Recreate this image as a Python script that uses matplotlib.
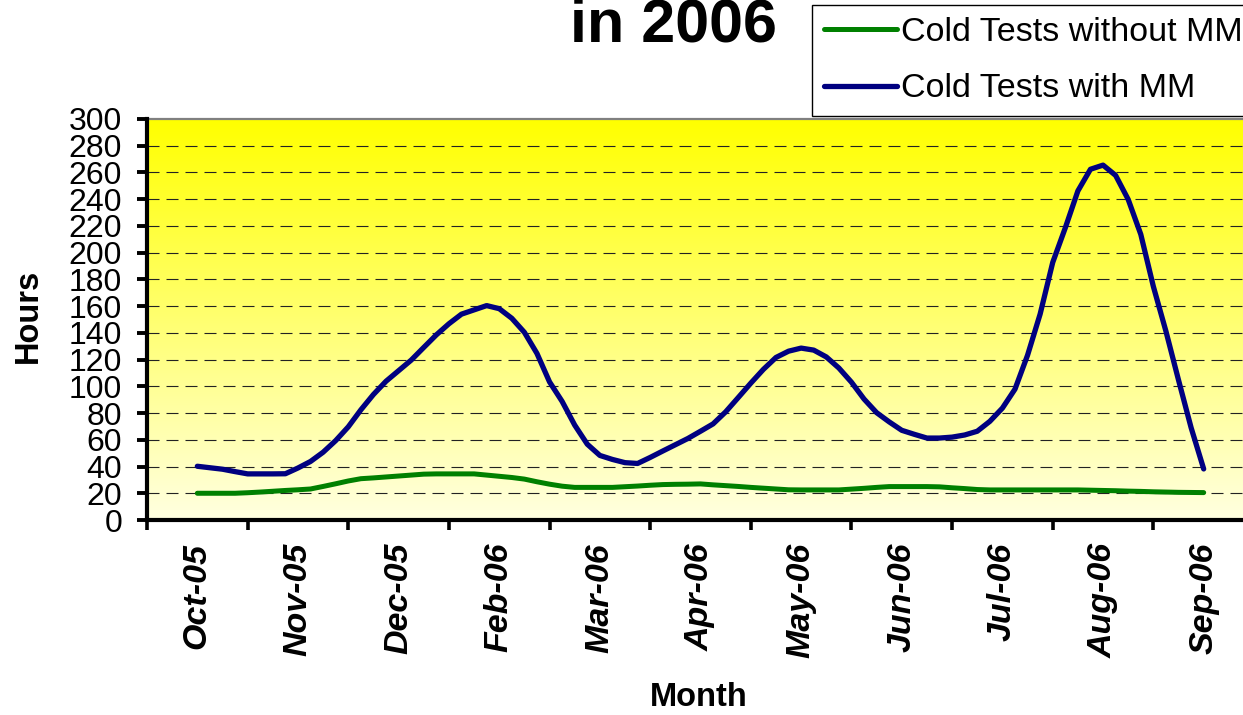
import numpy as np
import matplotlib
matplotlib.use("Agg")
import matplotlib.pyplot as plt

# ---- data -------------------------------------------------------------
months = ['Oct-05', 'Nov-05', 'Dec-05', 'Feb-06', 'Mar-06', 'Apr-06',
          'May-06', 'Jun-06', 'Jul-06', 'Aug-06', 'Sep-06']

# readings of the curves, 8 per category from Oct-05 to Sep-06
with_mm = [40.2, 39.1, 38.0, 36.2, 34.5, 34.5, 34.5, 34.6, 38.9, 43.8,
           50.7, 59.4, 69.7, 82.4, 93.9, 103.8, 111.7, 119.6, 129.1, 138.5,
           146.8, 154.0, 157.2, 160.4, 158.1, 150.9, 140.4, 124.6, 103.3, 88.7,
           71.0, 56.7, 48.3, 45.3, 42.9, 42.3, 46.8, 51.6, 56.3, 61.0,
           66.4, 71.9, 80.9, 91.6, 102.4, 112.7, 121.6, 126.3, 128.6, 127.1,
           122.0, 113.7, 103.1, 90.5, 80.3, 73.4, 67.1, 64.1, 61.3, 61.3,
           62.0, 63.6, 66.4, 73.8, 83.7, 97.9, 123.3, 154.1, 192.7, 218.6,
           246.2, 262.4, 265.5, 257.8, 239.8, 213.7, 174.7, 141.2, 104.7, 69.1,
           38.2]

without_mm = [20.0, 20.0, 20.0, 20.0, 20.4, 20.9, 21.5, 22.1, 22.6, 23.2,
              25.1, 27.1, 29.2, 30.9, 31.5, 32.2, 32.9, 33.6, 34.3, 34.5,
              34.5, 34.5, 34.5, 33.6, 32.7, 31.8, 30.6, 28.6, 26.8, 25.3,
              24.4, 24.4, 24.4, 24.4, 24.9, 25.4, 26.0, 26.5, 26.7, 26.8,
              27.0, 26.3, 25.7, 25.1, 24.4, 23.8, 23.2, 22.6, 22.5, 22.5,
              22.5, 22.5, 23.1, 23.7, 24.4, 25.0, 25.0, 25.0, 25.0, 24.8,
              24.1, 23.5, 22.8, 22.5, 22.5, 22.5, 22.5, 22.5, 22.5, 22.5,
              22.5, 22.3, 22.1, 21.9, 21.6, 21.4, 21.1, 20.9, 20.7, 20.6,
              20.5]

yticks = list(range(0, 301, 20))

title_text = 'in 2006'
xlabel_text = 'Month'
ylabel_text = 'Hours'
label_without = 'Cold Tests without MM'
label_with = 'Cold Tests with MM'

# ---- figure -----------------------------------------------------------
FONT = 'Liberation Sans'
plt.rcParams['font.family'] = [FONT, 'DejaVu Sans']

W, H = 1243, 715
fig = plt.figure(figsize=(W / 100, H / 100), dpi=100)
fig.patch.set_facecolor('white')

ax_l, ax_r, ax_t, ax_b = 147, 1254, 119, 520
ax = fig.add_axes([ax_l / W, 1 - ax_b / H, (ax_r - ax_l) / W, (ax_b - ax_t) / H])

# gradient background (yellow at top to very light yellow at bottom)
n = 256
grad = np.ones((n, 1, 3))
grad[:, 0, 2] = np.linspace(0.0, 0.88, n)
ax.imshow(grad, extent=(0, 1, 0, 1), transform=ax.transAxes,
          aspect='auto', zorder=0, interpolation='bilinear')
ax.set_facecolor('white')

x = np.linspace(0.5, len(months) - 0.5, len(with_mm))

l1, = ax.plot(x, without_mm, color='#008000', lw=3.6, zorder=3,
              solid_capstyle='round', solid_joinstyle='round', label=label_without)
l2, = ax.plot(x, with_mm, color='#000080', lw=3.8, zorder=4,
              solid_capstyle='round', solid_joinstyle='round', label=label_with)

ax.set_xlim(0, len(months))
ax.set_ylim(0, 300)

# gridlines
for v in yticks[1:-1]:
    ax.axhline(v, color='#222222', lw=0.8, dashes=(10.8, 6.3), zorder=1)

# spines
ax.spines['right'].set_visible(False)
ax.spines['top'].set_color('#808080')
ax.spines['top'].set_linewidth(1.6)
ax.spines['left'].set_linewidth(3.0)
ax.spines['bottom'].set_linewidth(3.0)
for s in ('left', 'bottom'):
    ax.spines[s].set_color('black')
    ax.spines[s].set_zorder(5)

# y ticks
ax.set_yticks(yticks)
ax.set_yticklabels([str(v) for v in yticks], fontsize=23, family=FONT)
ax.tick_params(axis='y', direction='out', length=7.5, width=2.8, pad=10.5,
               color='black')

# x ticks: major ticks at category boundaries, labels at centres
ax.set_xticks(np.arange(0, len(months) + 1))
ax.set_xticklabels([])
ax.set_xticks(np.arange(len(months)) + 0.5, minor=True)
ax.set_xticklabels(months, minor=True, rotation=90, fontsize=24.5,
                   fontweight='bold', fontstyle='italic', family=FONT,
                   va='top', ha='center')
ax.tick_params(axis='x', which='major', direction='out', length=7.5,
               width=2.6, color='black')
ax.tick_params(axis='x', which='minor', length=0, pad=16.5)

# axis labels and title
fig.text(699 / W, 1 - 697 / H, xlabel_text, ha='center', va='center',
         fontsize=23.5, fontweight='bold', family=FONT)
fig.text(28 / W, 1 - 316 / H, ylabel_text, ha='center', va='center',
         rotation=90, fontsize=23.5, fontweight='bold', family=FONT)
fig.text(674 / W, 1 - 42 / H, title_text, ha='center', va='baseline',
         fontsize=44, fontweight='bold', family=FONT)

# legend
leg = fig.legend(handles=[l1, l2], labels=[label_without, label_with],
                 loc='upper left', bbox_to_anchor=(812 / W, 1 - 5 / H),
                 borderaxespad=0, frameon=True, fancybox=False,
                 framealpha=1, edgecolor='black', facecolor='white',
                 prop=dict(family=FONT, size=24.5), handlelength=2.15,
                 handletextpad=0.12, borderpad=0.34, labelspacing=0.76)
leg.get_frame().set_linewidth(1.0)

fig.savefig('out.png', dpi=100, facecolor='white')
